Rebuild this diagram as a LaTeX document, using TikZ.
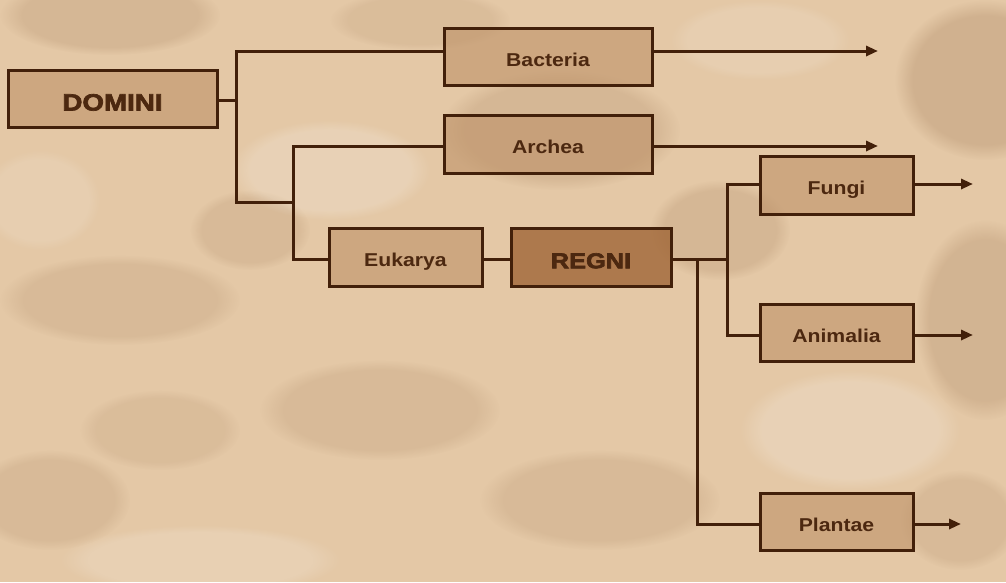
\documentclass[tikz,border=0pt]{standalone}
\usepackage{fontspec}
\setmainfont{Liberation Sans}
\newfontfamily\labelfont[FakeStretch=1.14]{Liberation Sans}
\newfontfamily\heavyfont[FakeStretch=1.18, FakeBold=3]{Liberation Sans}
\usetikzlibrary{arrows.meta,fadings}
\definecolor{bgC}{RGB}{228,200,166}
\definecolor{lineC}{RGB}{66,32,10}
\definecolor{txtC}{RGB}{76,40,16}
\definecolor{boxC}{RGB}{190,146,104}
\definecolor{regC}{RGB}{160,102,55}
\definecolor{cloudC}{RGB}{150,110,75}
\tikzset{
  box/.style={draw=lineC, line width=3pt, fill=boxC, fill opacity=0.6, text opacity=1,
    text=txtC, font=\labelfont\bfseries\fontsize{18.6}{18.6}\selectfont, inner sep=0pt,
    text height=19.5pt, text depth=0pt},
  bigbox/.style={box, font=\heavyfont\bfseries\fontsize{23.5}{23.5}\selectfont,
    text height=24pt},
  conn/.style={draw=lineC, line width=3pt},
  arr/.style={conn, -{Triangle[length=12pt,width=10pt]}},
  cloud/.style={fill=cloudC, path fading=circle with fuzzy edge 20 percent},
  light/.style={fill=white, path fading=circle with fuzzy edge 20 percent}
}
\begin{document}
\begin{tikzpicture}[x=1pt,y=-1pt]
\useasboundingbox (0,0) rectangle (1006,582);
\fill[bgC] (0,0) rectangle (1006,582);
% cloudy texture
\begin{scope}
\clip (0,0) rectangle (1006,582);
\fill[cloud, opacity=0.18] (110,15) ellipse [x radius=110, y radius=40];
\fill[cloud, opacity=0.18] (560,130) ellipse [x radius=120, y radius=60];
\fill[cloud, opacity=0.25] (985,80) ellipse [x radius=90, y radius=80];
\fill[cloud, opacity=0.18] (720,230) ellipse [x radius=70, y radius=50];
\fill[cloud, opacity=0.15] (120,300) ellipse [x radius=120, y radius=45];
\fill[cloud, opacity=0.15] (380,410) ellipse [x radius=120, y radius=50];
\fill[cloud, opacity=0.22] (985,320) ellipse [x radius=70, y radius=100];
\fill[cloud, opacity=0.15] (600,500) ellipse [x radius=120, y radius=50];
\fill[cloud, opacity=0.15] (50,500) ellipse [x radius=80, y radius=50];
\fill[cloud, opacity=0.12] (420,20) ellipse [x radius=90, y radius=30];
\fill[cloud, opacity=0.15] (250,230) ellipse [x radius=60, y radius=40];
\fill[cloud, opacity=0.12] (160,430) ellipse [x radius=80, y radius=40];
\fill[cloud, opacity=0.15] (960,520) ellipse [x radius=60, y radius=50];
\fill[light, opacity=0.18] (850,430) ellipse [x radius=110, y radius=60];
\fill[light, opacity=0.18] (330,170) ellipse [x radius=100, y radius=50];
\fill[light, opacity=0.15] (200,560) ellipse [x radius=140, y radius=35];
\fill[light, opacity=0.12] (40,200) ellipse [x radius=60, y radius=50];
\fill[light, opacity=0.12] (760,40) ellipse [x radius=90, y radius=40];
\end{scope}
% nodes
\node[bigbox, minimum width=209pt, minimum height=57pt] (domini) at (112.5,98.5) {DOMINI};
\node[box, minimum width=208pt, minimum height=57pt] (bacteria) at (548,56.5) {Bacteria};
\node[box, minimum width=208pt, minimum height=58pt] (archea) at (548,144) {Archea};
\node[box, minimum width=153pt, minimum height=58pt] (eukarya) at (405.5,257) {Eukarya};
\node[bigbox, fill=regC, fill opacity=0.8, minimum width=160pt, minimum height=58pt,
  font=\heavyfont\bfseries\fontsize{21.5}{21.5}\selectfont, text height=22.5pt] (regni) at (591,257) {REGNI};
\node[box, minimum width=153pt, minimum height=58pt] (fungi) at (836.5,185) {Fungi};
\node[box, minimum width=153pt, minimum height=57pt] (animalia) at (836.5,332.5) {Animalia};
\node[box, minimum width=153pt, minimum height=57pt] (plantae) at (836.5,521.5) {Plantae};
% junction coordinates
\coordinate (j1) at (236,100);
\coordinate (j2) at (236,202);
\coordinate (j3) at (293,202);
\coordinate (j4) at (727,259);
\coordinate (j5) at (697,259);
\coordinate (eB) at (878,51);
\coordinate (eA) at (878,146);
\coordinate (eF) at (973,184);
\coordinate (eAn) at (973,335);
\coordinate (eP) at (961,524);
% connectors
\draw[conn] ([yshift=-1.5pt]domini.east) -- (j1);
\draw[conn] ([yshift=5.5pt]bacteria.west) -| (j2) -- (j3);
\draw[conn] ([yshift=-2pt]archea.west) -| (j3) |- ([yshift=-2pt]eukarya.west);
\draw[conn] ([yshift=-2pt]eukarya.east) -- ([yshift=-2pt]regni.west);
\draw[conn] ([yshift=-2pt]regni.east) -- (j4);
\draw[conn] ([yshift=1pt]fungi.west) -| (j4) |- ([yshift=-2.5pt]animalia.west);
\draw[conn] (j5) |- ([yshift=-2.5pt]plantae.west);
\draw[arr] ([yshift=5.5pt]bacteria.east) -- (eB);
\draw[arr] ([yshift=-2pt]archea.east) -- (eA);
\draw[arr] ([yshift=1pt]fungi.east) -- (eF);
\draw[arr] ([yshift=-2.5pt]animalia.east) -- (eAn);
\draw[arr] ([yshift=-2.5pt]plantae.east) -- (eP);
\end{tikzpicture}
\end{document}
